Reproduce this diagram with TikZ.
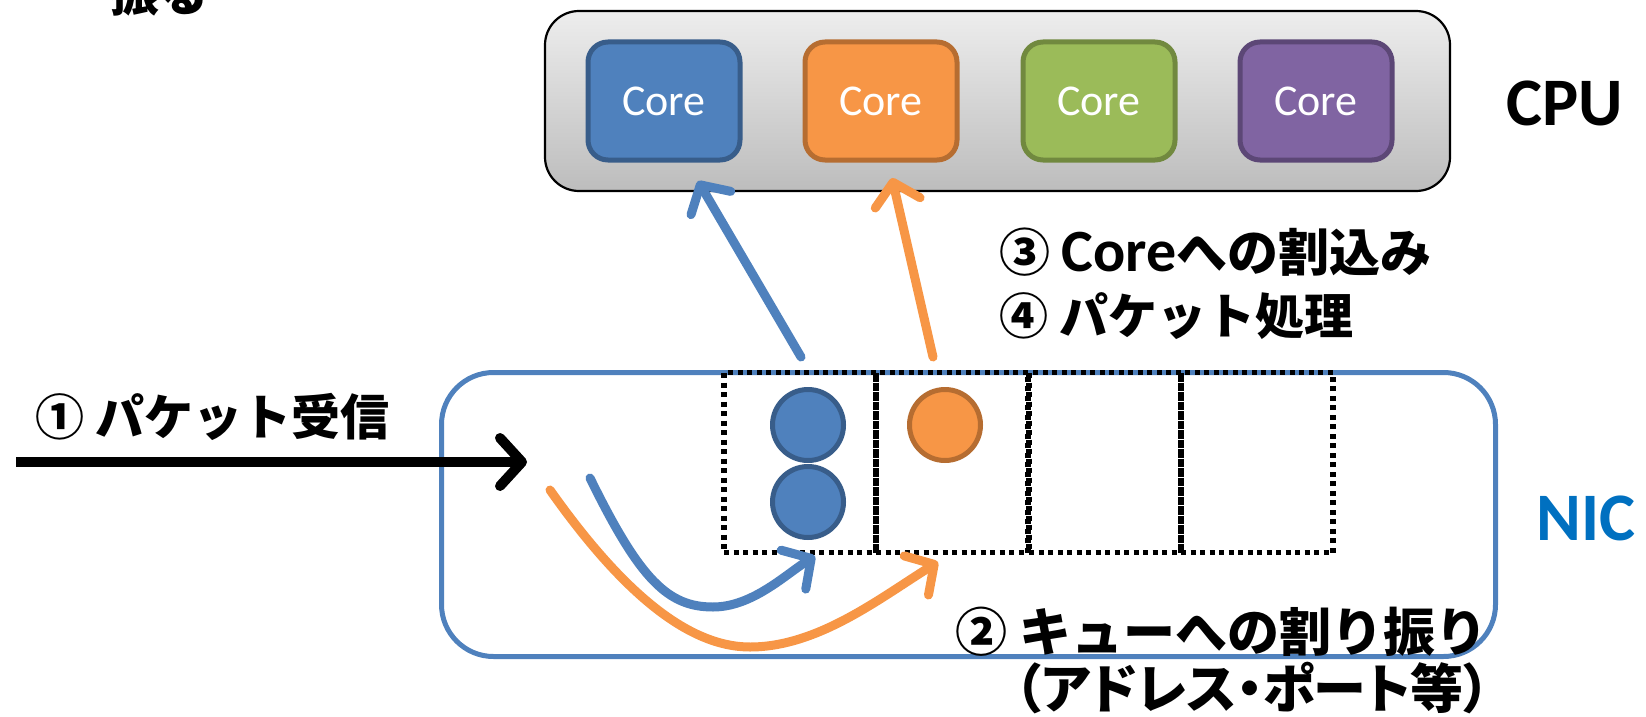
\documentclass[tikz,border=0pt]{standalone}
\usepackage{fontspec}
\setmainfont{Carlito}
\newfontfamily\jpfont{Noto Sans CJK JP}
\newfontfamily\jpnarrow{Noto Sans CJK JP}[RawFeature=+palt]
\newfontfamily\latinfont{Carlito}
\usetikzlibrary{arrows.meta}

\definecolor{coreblue}{HTML}{4F81BD}
\definecolor{coreblueline}{HTML}{385D8A}
\definecolor{coreorange}{HTML}{F79646}
\definecolor{coreorangeline}{HTML}{B66D31}
\definecolor{coregreen}{HTML}{9BBB59}
\definecolor{coregreenline}{HTML}{71893F}
\definecolor{corepurple}{HTML}{8064A2}
\definecolor{corepurpleline}{HTML}{5C4776}
\definecolor{nicblue}{HTML}{0070C0}

\tikzset{
  cpubox/.style={draw=black, line width=2.2pt, rounded corners=34pt,
    top color=black!7, bottom color=black!26,
    minimum width=905pt, minimum height=180pt, inner sep=0pt},
  corebox/.style={line width=5pt, rounded corners=20pt,
    minimum width=152pt, minimum height=118pt, inner sep=0pt,
    text=white, font=\latinfont\fontsize{44}{50}\selectfont},
  nicbox/.style={draw=coreblue, line width=5pt, rounded corners=52pt,
    minimum width=1054pt, minimum height=284pt, inner sep=0pt},
  queuecell/.style={draw=black, line width=5.5pt, dash pattern=on 5pt off 4.5pt,
    minimum width=152pt, minimum height=180pt, inner sep=0pt},
  packet/.style={circle, line width=5pt, minimum size=71pt, inner sep=0pt},
  jplabel/.style={inner sep=0pt, font=\jpfont\bfseries\fontsize{49}{60}\selectfont},
  biglabel/.style={inner sep=0pt, font=\latinfont\bfseries\fontsize{68}{72}\selectfont},
  flow/.style={line width=9pt, line cap=round,
    -{Straight Barb[length=21pt, width=46pt, round]}},
  inflow/.style={line width=10pt, draw=black,
    -{Straight Barb[length=22pt, width=48pt, round]}},
}

\begin{document}
\begin{tikzpicture}[x=1pt, y=-1pt]
\clip (0,0) rectangle (1646,717);

% heading line continuing from above the frame
\node[jplabel, anchor=base west] (heading) at (110,12) {振る};

% CPU with its four cores
\node[cpubox] (cpu) at (997.5,101) {};
\node[corebox, fill=coreblue, draw=coreblueline] (core1) at (664,101) {Core};
\node[corebox, fill=coreorange, draw=coreorangeline] (core2) at (881,101) {Core};
\node[corebox, fill=coregreen, draw=coregreenline] (core3) at (1099,101) {Core};
\node[corebox, fill=corepurple, draw=corepurpleline] (core4) at (1316,101) {Core};
\node[biglabel] (cpulabel) at (1565,103) {CPU};

% NIC with its receive queues
\node[nicbox] (nic) at (968.5,514.5) {};
\node[biglabel, text=nicblue] (niclabel) at (1586,518) {NIC};
\node[queuecell] (q1) at (800,462.5) {};
\node[queuecell] (q2) at (952,462.5) {};
\node[queuecell] (q3) at (1105,462.5) {};
\node[queuecell] (q4) at (1257,462.5) {};

% queued packets
\node[packet, fill=coreblue, draw=coreblueline] (p1) at (808,425) {};
\node[packet, fill=coreblue, draw=coreblueline] (p2) at (808,502) {};
\node[packet, fill=coreorange, draw=coreorangeline] (p3) at (945,425) {};

% packet arrival
\coordinate (src) at (16,462);
\coordinate (rx) at (527,462);
\draw[inflow] (src) -- (rx);

% distribution into the queues
\coordinate (splitb) at (590,478);
\coordinate (splito) at (550,490);
\coordinate (q1in) at (815,556);
\coordinate (q2in) at (938,562);
\draw[flow, draw=coreblue] (splitb) .. controls (640,580) and (668,607) .. (713,607)
  .. controls (752,607) and (785,575) .. (q1in);
\draw[flow, draw=coreorange] (splito) .. controls (622,592) and (688,647) .. (750,647)
  .. controls (818,647) and (880,598) .. (q2in);

% interrupts towards the cores
\coordinate (q1out) at (801,357);
\coordinate (q2out) at (933,357);
\coordinate (core1in) at (698,181);
\coordinate (core2in) at (892,178);
\draw[flow, draw=coreblue] (q1out) -- (core1in);
\draw[flow, draw=coreorange] (q2out) -- (core2in);

% step labels
\node[jplabel, anchor=base west] (step1) at (35,435) {① パケット受信};
\node[jplabel, anchor=base west, font=\jpfont\bfseries\fontsize{51}{60}\selectfont]
  (step3) at (999,271) {③ {\latinfont\bfseries\fontsize{60}{60}\selectfont Core}への割込み};
\node[jplabel, anchor=base west] (step4) at (999,334) {④ パケット処理};
\node[jplabel, anchor=base east, font=\jpfont\bfseries\fontsize{52}{60}\selectfont]
  (step2) at (1488,651) {② キューへの割り振り};
\node[jplabel, anchor=base east, font=\jpnarrow\bfseries\fontsize{53}{60}\selectfont]
  (step2note) at (1490,708) {（アドレス・ポート等）};
\end{tikzpicture}
\end{document}
